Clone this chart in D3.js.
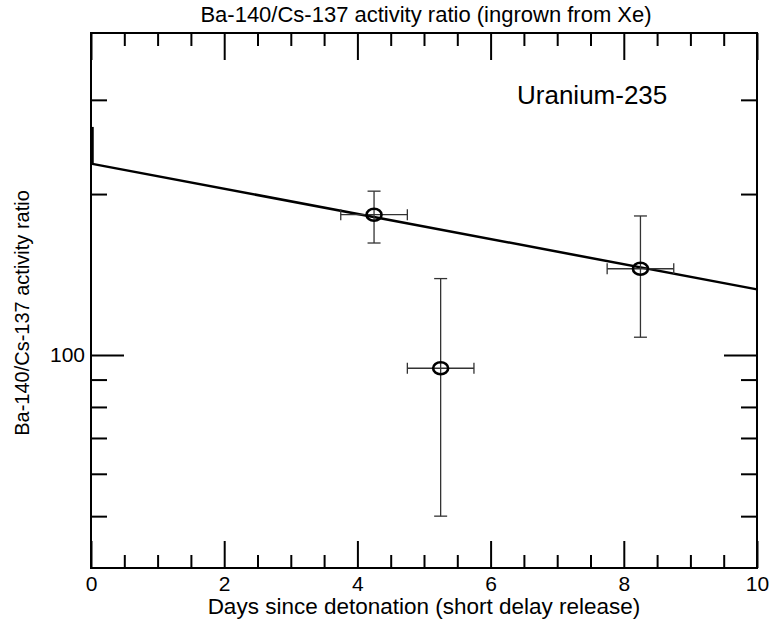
<!DOCTYPE html>
<html>
<head>
<meta charset="utf-8">
<script src="https://cdn.jsdelivr.net/npm/d3@7/dist/d3.min.js"></script>
<style>
  html, body { margin: 0; padding: 0; background: #fff; }
  svg { display: block; }
  text { font-family: "Liberation Sans", Arial, Helvetica, sans-serif; fill: #000; }
</style>
</head>
<body>
<svg id="chart" width="770" height="623"></svg>
<script>
// Measurements: days since detonation vs Ba-140/Cs-137 activity ratio
const days      = [4.25, 5.25, 8.25];
const ratios    = [183, 94.5, 145];
const ratioLow  = [162, 50, 108];
const ratioHigh = [202.5, 139, 182];
const dayErr    = [0.5, 0.5, 0.5];

// Fitted Ba-140 decay line (straight on the log axis), end points
const fitDays   = [0, 10];
const fitRatios = [228, 132.7];

// Intercept marker on the left axis
const interceptRange = [228, 267];

// Axis ticks
const xMajorTicks = [0, 2, 4, 6, 8, 10];
const xMinorTicks = [0.5, 1, 1.5, 2.5, 3, 3.5, 4.5, 5, 5.5, 6.5, 7, 7.5, 8.5, 9, 9.5];
const yMajorTicks = [100];
const yMinorTicks = [50, 60, 70, 80, 90, 200, 300];

const titleText  = "Ba-140/Cs-137 activity ratio (ingrown from Xe)";
const xLabelText = "Days since detonation (short delay release)";
const yLabelText = "Ba-140/Cs-137 activity ratio";
const noteText   = "Uranium-235";

const svg = d3.select("#chart");
const margin = { left: 91, right: 13, top: 33, bottom: 55 };
const W = 770, H = 623;
const x0 = margin.left, x1 = W - margin.right;
const y0 = margin.top,  y1 = H - margin.bottom;

const x = d3.scaleLinear().domain([0, 10]).range([x0, x1]);
const y = d3.scaleLog().domain([40, 400]).range([y1, y0]);

const majorLenX = 27, minorLenX = 13;
const majorLenY = 33, minorLenY = 16;

function styleAxis(g) {
  g.select(".domain").remove();
  g.selectAll(".tick line").attr("stroke", "#000").attr("stroke-width", 2);
  g.selectAll(".tick text")
    .attr("font-family", "Liberation Sans, Arial, sans-serif")
    .attr("fill", "#000");
}

// Bottom axis
svg.append("g").attr("transform", `translate(0,${y1})`)
  .call(d3.axisBottom(x).tickValues(xMajorTicks).tickSize(-majorLenX).tickPadding(8).tickFormat(d3.format("d")))
  .call(styleAxis)
  .call(g => g.selectAll(".tick text").attr("font-size", 21).attr("dy", "0.72em"));
svg.append("g").attr("transform", `translate(0,${y1})`)
  .call(d3.axisBottom(x).tickValues(xMinorTicks).tickSize(-minorLenX).tickFormat(""))
  .call(styleAxis);

// Top axis
svg.append("g").attr("transform", `translate(0,${y0})`)
  .call(d3.axisTop(x).tickValues(xMajorTicks).tickSize(-majorLenX).tickFormat(""))
  .call(styleAxis);
svg.append("g").attr("transform", `translate(0,${y0})`)
  .call(d3.axisTop(x).tickValues(xMinorTicks).tickSize(-minorLenX).tickFormat(""))
  .call(styleAxis);

// Left axis
svg.append("g").attr("transform", `translate(${x0},0)`)
  .call(d3.axisLeft(y).tickValues(yMajorTicks).tickSize(-majorLenY).tickPadding(7).tickFormat(d3.format("d")))
  .call(styleAxis)
  .call(g => g.selectAll(".tick text").attr("font-size", 21).attr("x", -6));
svg.append("g").attr("transform", `translate(${x0},0)`)
  .call(d3.axisLeft(y).tickValues(yMinorTicks).tickSize(-minorLenY).tickFormat(""))
  .call(styleAxis);

// Right axis
svg.append("g").attr("transform", `translate(${x1},0)`)
  .call(d3.axisRight(y).tickValues(yMajorTicks).tickSize(-majorLenY).tickFormat(""))
  .call(styleAxis);
svg.append("g").attr("transform", `translate(${x1},0)`)
  .call(d3.axisRight(y).tickValues(yMinorTicks).tickSize(-minorLenY).tickFormat(""))
  .call(styleAxis);

// Frame
svg.append("rect")
  .attr("x", x0).attr("y", y0)
  .attr("width", x1 - x0).attr("height", y1 - y0)
  .attr("fill", "none").attr("stroke", "#000").attr("stroke-width", 2);

// Intercept marker
svg.append("line")
  .attr("x1", x(0) + 1.5).attr("x2", x(0) + 1.5)
  .attr("y1", y(interceptRange[0])).attr("y2", y(interceptRange[1]))
  .attr("stroke", "#000").attr("stroke-width", 2.5);

// Fit line
svg.append("path")
  .datum(fitDays.map((d, i) => [d, fitRatios[i]]))
  .attr("fill", "none").attr("stroke", "#000").attr("stroke-width", 2.5)
  .attr("d", d3.line().x(d => x(d[0])).y(d => y(d[1])));

// Error bars and markers
const capV = 6.5, capH = 5.5;
const pts = days.map((d, i) => ({ d, r: ratios[i], lo: ratioLow[i], hi: ratioHigh[i], e: dayErr[i] }));
const eb = svg.append("g").attr("stroke", "#333").attr("stroke-width", 1.3).attr("fill", "none");
pts.forEach(p => {
  const cx = x(p.d), cy = y(p.r);
  // vertical
  eb.append("line").attr("x1", cx).attr("x2", cx).attr("y1", y(p.lo)).attr("y2", y(p.hi));
  eb.append("line").attr("x1", cx - capV).attr("x2", cx + capV).attr("y1", y(p.lo)).attr("y2", y(p.lo));
  eb.append("line").attr("x1", cx - capV).attr("x2", cx + capV).attr("y1", y(p.hi)).attr("y2", y(p.hi));
  // horizontal
  const xl = x(p.d - p.e), xr = x(p.d + p.e);
  eb.append("line").attr("x1", xl).attr("x2", xr).attr("y1", cy).attr("y2", cy);
  eb.append("line").attr("x1", xl).attr("x2", xl).attr("y1", cy - capH).attr("y2", cy + capH);
  eb.append("line").attr("x1", xr).attr("x2", xr).attr("y1", cy - capH).attr("y2", cy + capH);
});
svg.append("g").selectAll("ellipse").data(pts).join("ellipse")
  .attr("cx", p => x(p.d)).attr("cy", p => y(p.r))
  .attr("rx", 7.5).attr("ry", 6)
  .attr("fill", "none").attr("stroke", "#000").attr("stroke-width", 2.6);

// Texts
svg.append("text").attr("x", (x0 + x1) / 2 + 2).attr("y", 22)
  .attr("text-anchor", "middle").attr("font-size", 22).text(titleText);
svg.append("text").attr("x", (x0 + x1) / 2).attr("y", 614)
  .attr("text-anchor", "middle").attr("font-size", 22.5).text(xLabelText);
svg.append("text")
  .attr("transform", `translate(29,313) rotate(-90)`)
  .attr("text-anchor", "middle").attr("font-size", 20).text(yLabelText);
svg.append("text").attr("x", 517).attr("y", 104)
  .attr("font-size", 26).text(noteText);
</script>
</body>
</html>
